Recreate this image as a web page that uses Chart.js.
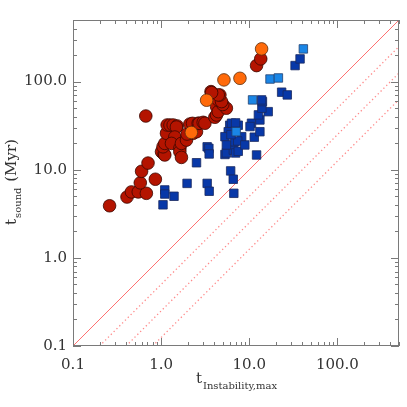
<!DOCTYPE html>
<html>
<head>
<meta charset="utf-8">
<script src="https://cdn.jsdelivr.net/npm/chart.js@4/dist/chart.umd.min.js"></script>
<style>
html, body { margin: 0; padding: 0; background: #fff; }
#wrap { width: 407px; height: 407px; }
</style>
</head>
<body>
<div id="wrap"><canvas id="chart" width="407" height="407"></canvas></div>
<script>
// dark red circles
const redX = [0.26, 0.41, 0.46, 0.55, 0.68, 0.58, 0.60, 0.71, 0.86, 0.67,
    1.01, 1.08, 1.10, 1.05, 1.10, 1.15, 1.17, 1.26, 1.37, 1.52, 1.49, 1.43, 1.31,
    1.63, 1.63, 1.70, 1.70, 1.94, 1.97, 2.21, 2.12, 2.27, 2.31, 2.45, 2.52, 2.63,
    2.70, 3.0, 3.14, 4.07, 4.25, 4.26, 4.45, 5.5, 5.0, 4.44, 4.85, 4.64, 4.45,
    3.68, 3.74, 12.1, 13.5];
const redY = [3.9, 4.9, 5.6, 5.6, 5.4, 7.1, 9.6, 11.9, 7.8, 40.7,
    16.0, 15.0, 14.7, 18.2, 19.9, 25.9, 32.2, 32.1, 32.2, 31.4, 30.5, 23.5, 19.9,
    17.5, 16.0, 13.8, 19.9, 21.7, 25.4, 30.8, 33.0, 33.6, 25.9, 27.5, 27.0, 33.7,
    33.6, 34.5, 33.7, 39.4, 41.8, 52.0, 45.6, 49.9, 55.0, 61.9, 59.3, 70.5, 70.6,
    77.0, 75.0, 152, 181];

// orange circles
const orangeX = [2.2, 3.28, 5.16, 7.84, 13.8];
const orangeY = [26.5, 61.5, 104.5, 109, 235];

// dark blue squares
const blueX = [1.05, 1.10, 1.10, 1.40, 1.97, 2.52, 3.33, 3.48, 3.51, 3.33, 3.51,
    5.3, 5.5, 6.15, 6.58, 6.68, 6.6, 7.0, 7.5, 6.0, 6.3, 7.5, 7.0, 5.77, 5.3, 8.2,
    6.85, 7.4, 8.9, 5.5, 6.2, 10.6, 10.2, 11.4, 12.1, 13.2, 13.2, 12.7, 16.4, 13.9,
    14.1, 13.8, 23.3, 27.0, 33.1, 37.7];
const blueY = [4.0, 5.9, 5.3, 5.0, 7.0, 12.0, 18.2, 17.5, 15.1, 7.0, 5.7,
    14.9, 15.5, 9.7, 7.8, 5.4, 16.7, 15.5, 16.2, 32, 33.7, 32, 34, 27, 23.7, 23.7,
    20.8, 21.2, 19.1, 19.1, 25, 33.7, 30.9, 23.4, 14.7, 27, 36.7, 41.9, 45.6, 49.9,
    59.3, 62, 75.8, 70.6, 152, 181];

// light blue squares
const lightX = [7.1, 10.9, 17.2, 21.4, 41.1];
const lightY = [27, 62, 107, 110, 235];

// reference lines y = x / ratio
const lineRatios = [1, 2, 4, 8];
const axisMin = 0.1;
const axisMax = 500;
const decadeLabels = [0.1, 1, 10, 100];

function toPoints(xs, ys) {
    return xs.map((x, i) => ({ x: x, y: ys[i] }));
}

function refLine(r) {
    return [{ x: axisMin * r, y: axisMin }, { x: axisMax, y: axisMax / r }];
}

const lineSets = lineRatios.map(r => ({
    type: 'line',
    data: refLine(r),
    borderColor: r === 1 ? '#ff7070' : '#ff8a8a',
    borderWidth: r === 1 ? 1 : 1.3,
    borderDash: r === 1 ? [] : [1.3, 2.7],
    pointRadius: 0,
    fill: false,
    order: 10
}));

const serif = '"DejaVu Serif", "Liberation Serif", serif';

// inward ticks on all four sides, frame, and axis titles
const frameTicks = {
    id: 'frameTicks',
    afterDraw(chart) {
        const ctx = chart.ctx;
        const a = chart.chartArea;
        const xs = chart.scales.x;
        const ys = chart.scales.y;
        ctx.save();
        ctx.strokeStyle = '#7a7a7a';
        ctx.lineWidth = 1;
        ctx.strokeRect(a.left + 0.5, a.top + 0.5, a.right - a.left - 1, a.bottom - a.top - 1);
        ctx.beginPath();
        for (let d = axisMin; d < axisMax; d *= 10) {
            for (let m = 1; m <= 9; m++) {
                const v = d * m;
                if (v > axisMax * 1.0001) break;
                const len = m === 1 ? 8 : 4;
                const px = Math.round(xs.getPixelForValue(v)) + 0.5;
                ctx.moveTo(px, a.bottom); ctx.lineTo(px, a.bottom - len);
                ctx.moveTo(px, a.top); ctx.lineTo(px, a.top + len);
                const py = Math.round(ys.getPixelForValue(v)) + 0.5;
                ctx.moveTo(a.left, py); ctx.lineTo(a.left + len, py);
                ctx.moveTo(a.right, py); ctx.lineTo(a.right - len, py);
            }
        }
        ctx.stroke();

        // x title: t with subscript
        ctx.fillStyle = '#333';
        ctx.textBaseline = 'alphabetic';
        ctx.textAlign = 'left';
        ctx.font = '15px ' + serif;
        const mainW = ctx.measureText('t').width;
        ctx.font = '10px ' + serif;
        const subW = ctx.measureText('Instability,max').width;
        const cx = (a.left + a.right) / 2;
        let sx = cx - (mainW + subW) / 2;
        ctx.font = '15px ' + serif;
        ctx.fillText('t', sx, 383);
        ctx.font = '10px ' + serif;
        ctx.fillText('Instability,max', sx + mainW + 1, 389);

        // y title rotated
        ctx.translate(16, (a.top + a.bottom) / 2);
        ctx.rotate(-Math.PI / 2);
        ctx.font = '15px ' + serif;
        const tW = ctx.measureText('t').width;
        const unitW = ctx.measureText(' (Myr)').width;
        ctx.font = '10px ' + serif;
        const sW = ctx.measureText('sound').width;
        let yx = -(tW + sW + unitW) / 2;
        ctx.font = '15px ' + serif;
        ctx.fillText('t', yx, 0);
        ctx.font = '10px ' + serif;
        ctx.fillText('sound', yx + tW + 1, 5);
        ctx.font = '15px ' + serif;
        ctx.fillText(' (Myr)', yx + tW + sW + 2, 0);
        ctx.restore();
    }
};

function logAxis(afterFit) {
    return {
        type: 'logarithmic',
        min: axisMin,
        max: axisMax,
        afterBuildTicks: s => { s.ticks = decadeLabels.map(v => ({ value: v })); },
        afterFit: afterFit,
        grid: { display: false, drawTicks: false },
        border: { display: false },
        ticks: {
            autoSkip: false,
            maxRotation: 0,
            color: '#333',
            font: { family: serif, size: 15 },
            callback: v => Number(v).toFixed(1)
        }
    };
}

const xAxis = logAxis(s => { s.height = 61; });
xAxis.position = 'bottom';
xAxis.ticks.padding = 10;
const yAxis = logAxis(s => { s.width = 73; });
yAxis.ticks.padding = 6;

new Chart(document.getElementById('chart'), {
    type: 'scatter',
    data: {
        datasets: [
            {
                data: toPoints(lightX, lightY),
                pointStyle: 'rect',
                pointRadius: 6,
                backgroundColor: '#1a86e6',
                borderColor: '#23406e',
                borderWidth: 0.8,
                order: 1
            },
            {
                data: toPoints(blueX, blueY),
                pointStyle: 'rect',
                pointRadius: 6,
                backgroundColor: '#0838a8',
                borderColor: '#1a2a60',
                borderWidth: 0.8,
                order: 2
            },
            {
                data: toPoints(orangeX, orangeY),
                pointStyle: 'circle',
                pointRadius: 6.3,
                backgroundColor: '#ff6a0a',
                borderColor: '#5a3010',
                borderWidth: 0.8,
                order: 3
            },
            {
                data: toPoints(redX, redY),
                pointStyle: 'circle',
                pointRadius: 6.3,
                backgroundColor: '#b41400',
                borderColor: '#3a0800',
                borderWidth: 0.8,
                order: 4
            },
            ...lineSets
        ]
    },
    options: {
        responsive: false,
        animation: false,
        layout: { padding: { top: 20, right: 8, left: 0, bottom: 0 } },
        plugins: { legend: { display: false }, tooltip: { enabled: false } },
        scales: { x: xAxis, y: yAxis }
    },
    plugins: [frameTicks]
});
</script>
</body>
</html>
